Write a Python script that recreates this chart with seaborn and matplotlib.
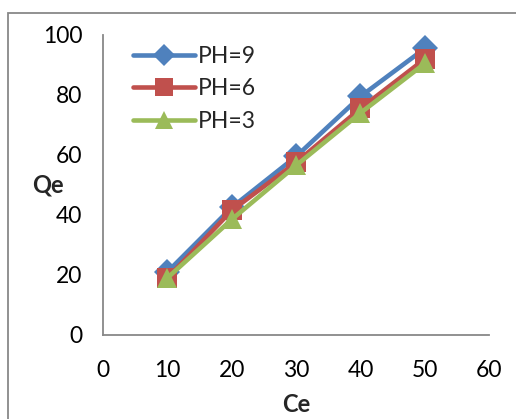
import matplotlib
matplotlib.use("Agg")
import matplotlib.pyplot as plt
import seaborn as sns
import pandas as pd
from matplotlib.patches import Rectangle

ce = [10, 20, 30, 40, 50]
ph9 = [21, 42.5, 59.5, 79.5, 95.5]
ph6 = [19, 41.5, 57.5, 75.5, 92]
ph3 = [19, 38.5, 56.5, 74, 90.5]
series_names = ["PH=9", "PH=6", "PH=3"]
colors = ["#4F81BD", "#C0504D", "#9BBB59"]
markers = ["D", "s", "^"]
xticks = [0, 10, 20, 30, 40, 50, 60]
yticks = [0, 20, 40, 60, 80, 100]

df = pd.concat([
    pd.DataFrame({"Ce": ce, "Qe": vals, "series": name})
    for name, vals in zip(series_names, [ph9, ph6, ph3])
])

sns.set_theme(style="white")
plt.rcParams["font.family"] = ["Lato", "DejaVu Sans"]

fig = plt.figure(figsize=(5.16, 4.19), dpi=100)
ax = fig.add_axes([0.1996, 0.2005, 0.7484, 0.716])

msizes = {"D": 13, "s": 14, "^": 15}
for name, col, mk in zip(series_names, colors, markers):
    sub = df[df["series"] == name]
    sns.lineplot(data=sub, x="Ce", y="Qe", ax=ax, color=col, marker=mk,
                 markersize=msizes[mk], markeredgewidth=0, linewidth=3.3,
                 label=name, solid_capstyle="round")

ax.set_xlim(0, 60)
ax.set_ylim(0, 100)
ax.set_xticks(xticks)
ax.set_yticks(yticks)
ax.tick_params(axis="both", labelsize=16.5, colors="#000000", length=6,
               width=1.3, direction="out", color="#888888", pad=9)
ax.tick_params(axis="x", pad=12)
for s in ["top", "right"]:
    ax.spines[s].set_visible(False)
for s in ["left", "bottom"]:
    ax.spines[s].set_color("#888888")
    ax.spines[s].set_linewidth(1.3)

ax.set_xlabel("Ce", fontsize=17, fontweight="bold")
ax.set_ylabel("Qe", fontsize=17, fontweight="bold", rotation=0,
              va="center", ha="center")
ax.yaxis.set_label_coords(-0.142, 0.5)
ax.xaxis.set_label_coords(0.5, -0.233)
ax.xaxis.label.set_va("center")

leg = ax.legend(loc="upper left", bbox_to_anchor=(0.055, 0.995), frameon=False,
                fontsize=16.5, handlelength=2.7, handletextpad=0.1,
                labelspacing=0.5, borderaxespad=0, markerscale=0.9)

fig.patches.append(Rectangle((8 / 516, -0.1), 1.2, 1 - 13 / 419 + 0.1,
                             transform=fig.transFigure, fill=False,
                             edgecolor="#888888", linewidth=1.3))

fig.savefig("out.png", dpi=100)
